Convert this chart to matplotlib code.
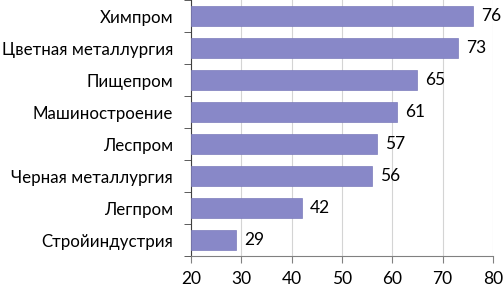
import matplotlib
matplotlib.use("Agg")
import matplotlib.pyplot as plt
import numpy as np

categories = ["Химпром", "Цветная металлургия", "Пищепром", "Машиностроение",
              "Леспром", "Черная металлургия", "Легпром", "Стройиндустрия"]
values = [76, 73, 65, 61, 57, 56, 42, 29]
xticks = [20, 30, 40, 50, 60, 70, 80]

plt.rcParams['font.family'] = ['Lato', 'DejaVu Sans']

fig = plt.figure(figsize=(5.04, 2.89), dpi=100)
ax = fig.add_axes([0.379, 0.114, 0.599, 0.886])

n = len(categories)
y = np.arange(n)[::-1]
bars = ax.barh(y, [v - 20 for v in values], left=20, height=0.6,
               color='#8888c8', edgecolor='#7c7cbc', linewidth=0.5, zorder=3)

for yi, v in zip(y, values):
    ax.text(v + 1.6, yi, str(v), va='center', ha='left', fontsize=12.5, color='black')

ax.set_xlim(20, 80)
ax.set_ylim(-0.5, n - 0.5)
ax.set_xticks(xticks)
ax.set_xticklabels([str(t) for t in xticks], fontsize=12.5)
ax.set_yticks(y)
ax.set_yticklabels(categories, fontsize=12.2)
ax.tick_params(axis='y', length=0, pad=13)
ax.set_yticks(np.arange(-0.5, n, 1.0), minor=True)
ax.tick_params(axis='y', which='minor', length=5, direction='out', color='#404040')
ax.tick_params(axis='x', length=5, direction='out', color='#808080', pad=6)

ax.grid(axis='x', color='#d4d4d4', linewidth=0.8, zorder=0)
ax.set_axisbelow(True)
for s in ['top', 'right']:
    ax.spines[s].set_visible(False)
ax.spines['left'].set_color('#404040')
ax.spines['bottom'].set_color('#808080')

fig.savefig("out.png", dpi=100)
